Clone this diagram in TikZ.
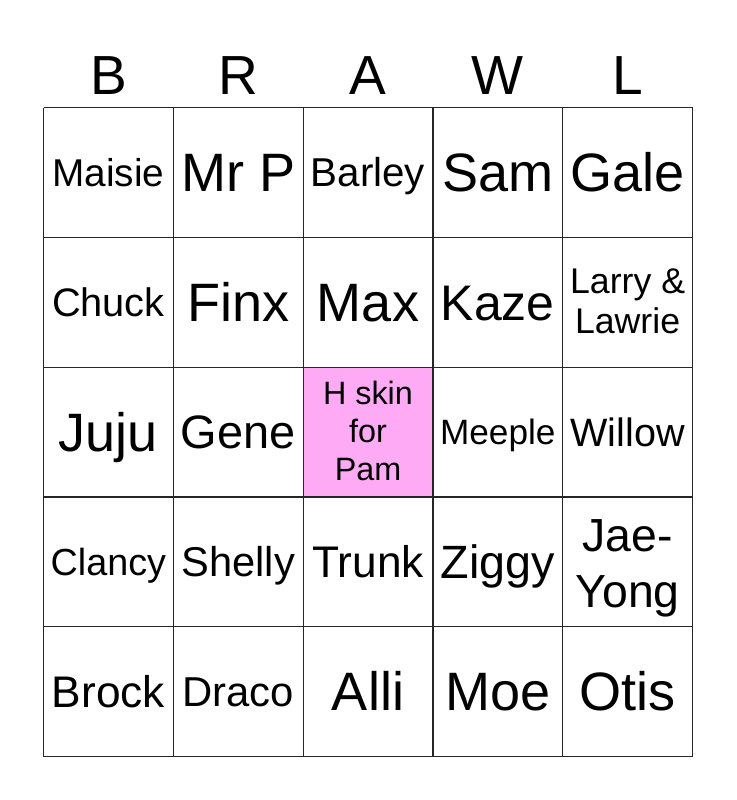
\documentclass[tikz,border=0pt]{standalone}
\usepackage{fontspec}
\setmainfont{Liberation Sans}
\definecolor{freepink}{RGB}{255,170,245}
\newcommand{\bcell}[5]{\pgfmathsetmacro{\fsz}{#4*1.02}\node[txt,font=\fontsize{\fsz}{\fsz}\selectfont] (#1) at ({#2},{#3+0.365*#4}) {#5};}
\begin{document}
\begin{tikzpicture}[x=1pt,y=-1pt,
  txt/.style={anchor=base,inner sep=0pt,text=black},
  gridline/.style={line width=1.2pt,draw=black!85}]
\useasboundingbox (0,0) rectangle (736,800);
\fill[white] (0,0) rectangle (736,800);
% free cell
\fill[freepink] (303.3,367.2) rectangle (432.7,496.8);
% grid
\foreach \i in {0,...,5} {
  \draw[gridline] ({43.5+129.8*\i},107.5) -- ({43.5+129.8*\i},756.5);
  \draw[gridline] (43.5,{107.5+129.8*\i}) -- (692.5,{107.5+129.8*\i});
}
% header
\bcell{hB}{108.4}{74.5}{54}{B}
\bcell{hR}{238.2}{74.5}{54}{R}
\bcell{hA}{368}{74.5}{54}{A}
\bcell{hW}{497.8}{74.5}{54}{W}
\bcell{hL}{627.6}{74.5}{54}{L}
% row 1
\bcell{a1}{108.4}{172.4}{38}{Maisie}
\bcell{a2}{238.2}{172.4}{53}{Mr P}
\bcell{a3}{368}{172.4}{39.5}{Barley}
\bcell{a4}{497.8}{172.4}{53}{Sam}
\bcell{a5}{627.6}{172.4}{53}{Gale}
% row 2
\bcell{b1}{108.4}{302.2}{39}{Chuck}
\bcell{b2}{238.2}{302.2}{53}{Finx}
\bcell{b3}{368}{302.2}{53}{Max}
\bcell{b4}{497.8}{302.2}{49}{Kaze}
\bcell{b5a}{627.6}{280.5}{35}{Larry \&}
\bcell{b5b}{627.6}{321}{35}{Lawrie}
% row 3
\bcell{c1}{108.4}{432}{53}{Juju}
\bcell{c2}{238.2}{432}{46}{Gene}
\bcell{c3a}{368}{393}{31.7}{H skin}
\bcell{c3b}{368}{431}{31.7}{for}
\bcell{c3c}{368}{469}{31.7}{Pam}
\bcell{c4}{497.8}{432}{34.5}{Meeple}
\bcell{c5}{627.6}{432}{38.8}{Willow}
% row 4
\bcell{d1}{108.4}{561.8}{37}{Clancy}
\bcell{d2}{238.2}{561.8}{40.8}{Shelly}
\bcell{d3}{368}{561.8}{43.4}{Trunk}
\bcell{d4}{497.8}{561.8}{45.8}{Ziggy}
\bcell{d5a}{627.6}{535}{45.5}{Jae-}
\bcell{d5b}{627.6}{591}{45.5}{Yong}
% row 5
\bcell{e1}{108.4}{691.6}{43.4}{Brock}
\bcell{e2}{238.2}{691.6}{41}{Draco}
\bcell{e3}{368}{691.6}{53}{Alli}
\bcell{e4}{497.8}{691.6}{53}{Moe}
\bcell{e5}{627.6}{691.6}{53}{Otis}
\end{tikzpicture}
\end{document}
